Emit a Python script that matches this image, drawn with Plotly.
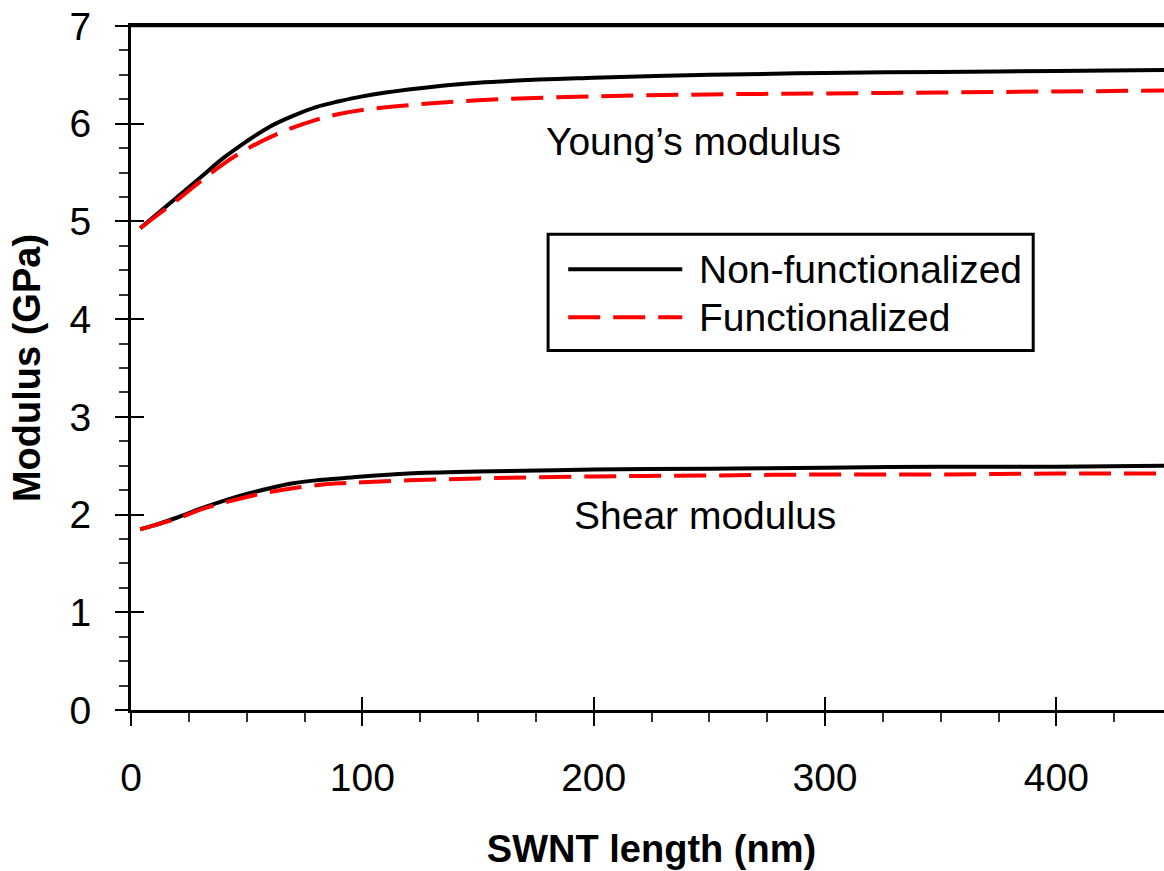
import plotly.graph_objects as go

# SWNT length (nm)
length = [4, 10, 20, 30, 40, 50, 60, 70, 80, 90, 100, 120, 150, 200, 250, 300, 350, 400, 450]

# Young's modulus (GPa)
young_nonfunc = [4.93, 5.05, 5.25, 5.45, 5.65, 5.82, 5.97, 6.08, 6.17, 6.23, 6.28, 6.35, 6.42,
                 6.47, 6.50, 6.52, 6.53, 6.54, 6.55]
young_func = [4.93, 5.04, 5.22, 5.41, 5.59, 5.74, 5.86, 5.96, 6.04, 6.10, 6.14, 6.19, 6.24,
              6.28, 6.30, 6.31, 6.32, 6.33, 6.34]

# Shear modulus (GPa)
shear_nonfunc = [1.85, 1.89, 1.97, 2.06, 2.14, 2.21, 2.27, 2.32, 2.35, 2.37, 2.39, 2.42, 2.44,
                 2.46, 2.47, 2.48, 2.49, 2.49, 2.50]
shear_func = [1.85, 1.89, 1.96, 2.05, 2.12, 2.18, 2.23, 2.27, 2.30, 2.32, 2.33, 2.35, 2.37,
              2.39, 2.40, 2.41, 2.41, 2.42, 2.42]

series_names = ["Non-functionalized", "Functionalized"]

FONT = "Liberation Sans"
FS = 39
black_line = dict(color="black", width=4, shape="spline")
red_line = dict(color="#ff0000", width=4, dash="32px,13px", shape="spline")

fig = go.Figure()
for ys_black, ys_red in [(young_nonfunc, young_func), (shear_nonfunc, shear_func)]:
    fig.add_trace(go.Scatter(x=length, y=ys_black, mode="lines", line=black_line,
                             name=series_names[0], showlegend=False))
    fig.add_trace(go.Scatter(x=length, y=ys_red, mode="lines", line=red_line,
                             name=series_names[1], showlegend=False))

# dummy trace so the overlay axes (inside half of crossing ticks) get drawn
fig.add_trace(go.Scatter(x=[None], y=[None], xaxis="x2", yaxis="y2",
                         showlegend=False, hoverinfo="skip"))

xr = [0, 450]
yr = [0, 7]

# figure is a bit wider than the window: the original is cropped at the right edge
fig.update_layout(
    width=1172,
    height=871,
    plot_bgcolor="white",
    paper_bgcolor="white",
    font=dict(family=FONT, size=FS, color="black"),
    margin=dict(l=131, r=0, t=26, b=161),
    showlegend=False,
    xaxis=dict(
        range=xr, dtick=100, tick0=0,
        showline=True, linecolor="black", linewidth=3, mirror=True,
        ticks="outside", ticklen=13, tickwidth=2, tickcolor="black",
        minor=dict(dtick=25, ticks="outside", ticklen=9, tickwidth=2, tickcolor="#333"),
        showgrid=False, zeroline=False,
        ticklabelstandoff=18, ticklabeloverflow="allow",
        title=dict(text="<b>SWNT length (nm)</b>", standoff=38, font=dict(size=38)),
    ),
    yaxis=dict(
        range=yr, dtick=1, tick0=0,
        showline=True, linecolor="black", linewidth=3,
        ticks="outside", ticklen=13, tickwidth=2, tickcolor="black",
        minor=dict(dtick=0.25, ticks="outside", ticklen=9, tickwidth=2, tickcolor="#333"),
        showgrid=False, zeroline=False,
        ticklabelstandoff=16, ticklabeloverflow="allow",
        title=dict(text="<b>Modulus (GPa)</b>", standoff=18, font=dict(size=38)),
    ),
    xaxis2=dict(
        range=xr, dtick=100, tick0=0, overlaying="x", anchor="y2", side="bottom",
        ticks="inside", ticklen=13, tickwidth=2, tickcolor="black",
        showticklabels=False, showline=False, showgrid=False, zeroline=False,
    ),
    yaxis2=dict(
        range=yr, dtick=1, tick0=0, overlaying="y", anchor="x2", side="left",
        ticks="inside", ticklen=13, tickwidth=2, tickcolor="black",
        showticklabels=False, showline=False, showgrid=False, zeroline=False,
    ),
)

# top frame line
fig.add_shape(type="line", xref="paper", yref="paper", x0=0, x1=1, y0=1, y1=1,
              line=dict(color="black", width=2.5))

# curve labels
fig.add_annotation(x=243, y=5.82, xref="x", yref="y", text="Young’s modulus",
                   showarrow=False, font=dict(size=FS))
fig.add_annotation(x=248, y=1.99, xref="x", yref="y", text="Shear modulus",
                   showarrow=False, font=dict(size=FS))

# hand-built legend box (long line samples like the original)
fig.add_shape(type="rect", xref="x", yref="y",
              x0=180.3, x1=390.0, y0=3.68, y1=4.87,
              line=dict(color="black", width=3), fillcolor="white")
legend_rows = [(4.51, black_line), (4.02, red_line)]
for name, (ly, ln) in zip(series_names, legend_rows):
    fig.add_shape(type="line", xref="x", yref="y",
                  x0=189.0, x1=238.3, y0=ly, y1=ly,
                  line=dict(color=ln["color"], width=4, dash=ln.get("dash", "solid")))
    fig.add_annotation(x=244.8, y=ly, xref="x", yref="y", text=name,
                       showarrow=False, xanchor="left", font=dict(size=FS))

# drop the page's default body margin and scrollbars
fig.write_html(
    "out.html",
    config={"displayModeBar": False},
    post_script="document.body.style.margin='0';document.body.style.overflow='hidden';",
)
